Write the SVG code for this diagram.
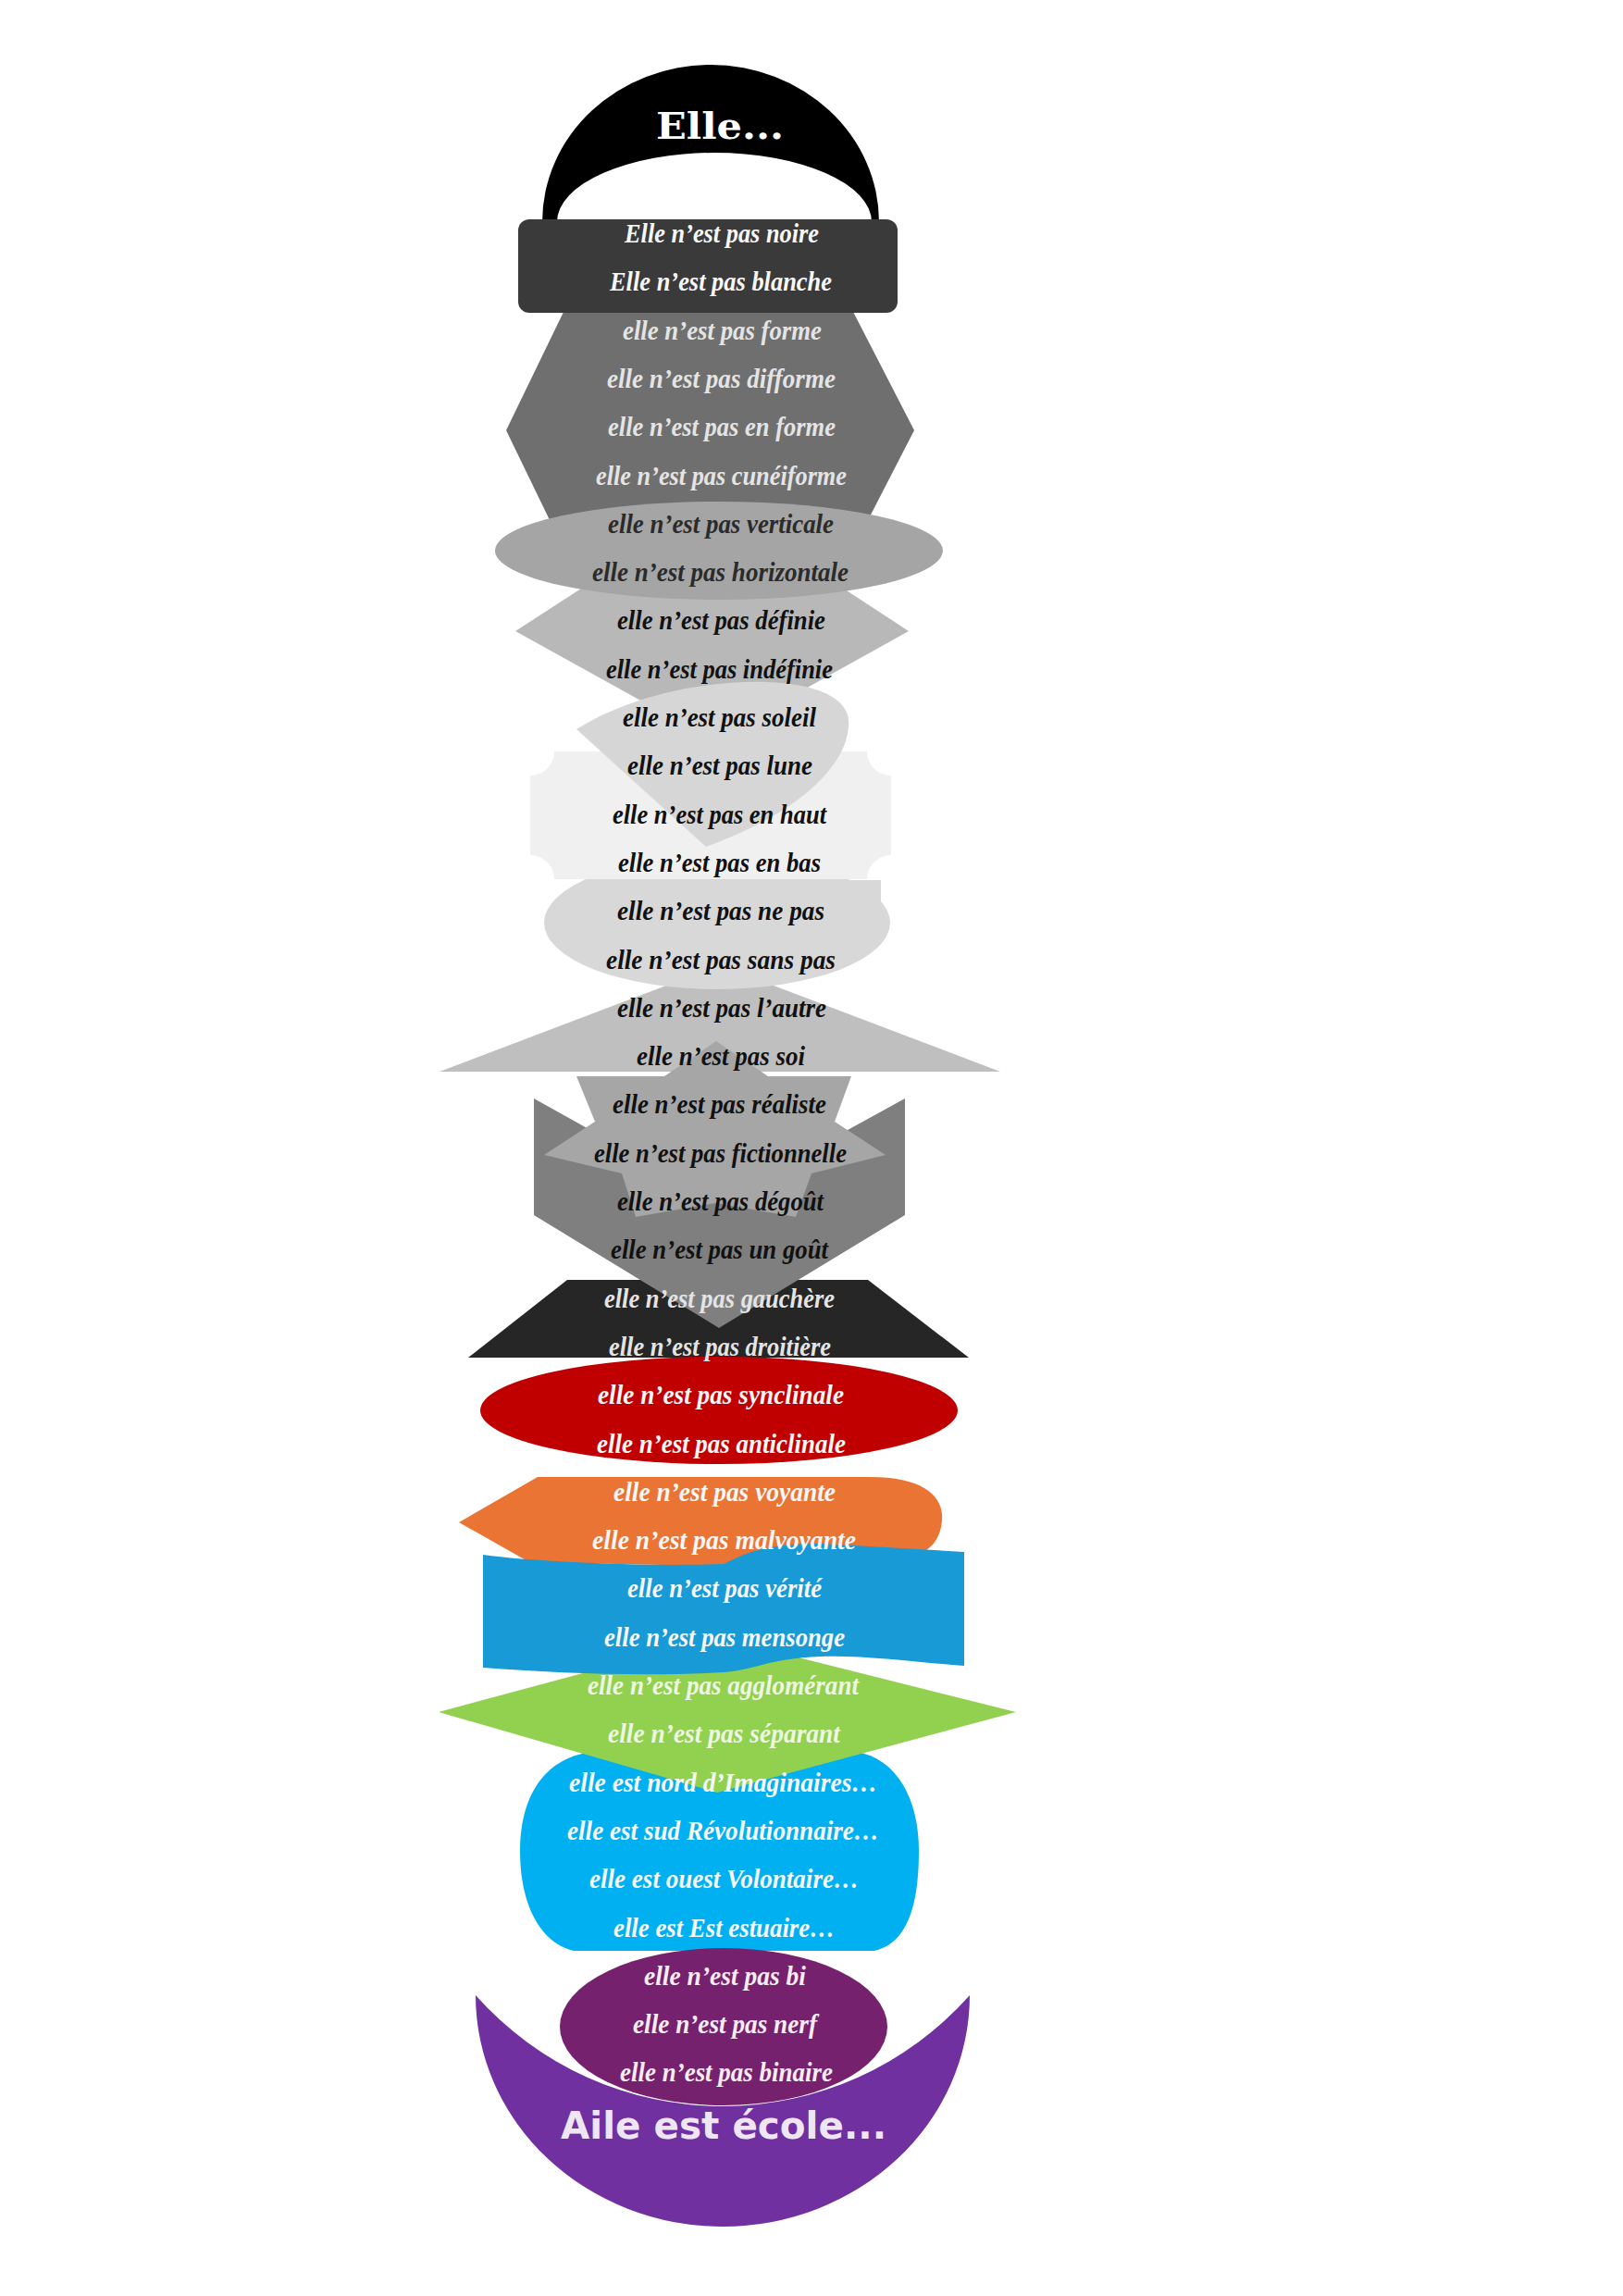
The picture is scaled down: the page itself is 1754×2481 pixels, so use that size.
<svg xmlns="http://www.w3.org/2000/svg" width="1754" height="2481" viewBox="0 0 1754 2481">
<style>
.t{font-family:"Liberation Serif","DejaVu Serif",serif;font-style:italic;font-weight:bold;font-size:29px}
.w{fill:#f7f7f7}.lg{fill:#e4e4e4}.dk{fill:#2b2b2b}.bk{fill:#111111}.gw{fill:#eef6e2}.pw{fill:#f6ecf4}
.title{font-weight:bold;font-size:40px;text-anchor:middle}
</style>
<rect x="0" y="0" width="1754" height="2481" fill="#ffffff"/>
<g id="nodes">
<g id="node-elle"><path d="M586,240 A182,170 0 0 1 950,240 L942,240 A170,75 0 0 0 602,240 Z" fill="#000000"/></g>
<g id="node-forme"><polygon points="611,333 920,333 988,465 920,597 611,597 547,465" fill="#6f6f6f"/></g>
<g id="node-noire"><rect x="560" y="237" width="410" height="101" rx="12" fill="#3a3a3a"/></g>
<g id="node-definie"><polygon points="645,625 895,625 982,682 770,800 557,682" fill="#b8b8b8"/></g>
<g id="node-verticale"><ellipse cx="777" cy="595" rx="242" ry="53" fill="#a5a5a5"/></g>
<g id="node-autre"><polygon points="778,1043 1081,1158 475,1158" fill="#bfbfbf"/></g>
<g id="node-nepas"><ellipse cx="775" cy="997" rx="187" ry="72" fill="#d8d8d8"/><rect x="775" y="951" width="177" height="50" fill="#d8d8d8"/></g>
<g id="node-haut"><path d="M599,812 L937,812 A26,26 0 0 0 963,838 L963,924 A26,26 0 0 0 937,950 L599,950 A26,26 0 0 0 573,924 L573,838 A26,26 0 0 0 599,812 Z" fill="#f0f0f0"/></g>
<g id="node-soleil"><path d="M623,788 C680,752 760,735 830,737 C895,740 920,760 917,785 C914,830 860,880 763,915 Z" fill="#d6d6d6"/></g>
<g id="node-gauchere"><polygon points="613,1383 938,1383 1047,1467 506,1467" fill="#262626"/></g>
<g id="node-gout"><polygon points="577,1187 776,1298 978,1187 978,1313 777,1435 577,1313" fill="#7f7f7f"/></g>
<g id="node-realiste"><polygon points="623,1163 718,1163 774,1125 830,1163 920,1163 902,1212 957,1248 877,1268 860,1315 773,1300 687,1315 672,1268 588,1248 643,1212" fill="#a6a6a6"/></g>
<g id="node-synclinale"><ellipse cx="777" cy="1524" rx="258" ry="58" fill="#c00000"/></g>
<g id="node-voyante"><path d="M581,1596 L940,1596 C1000,1596 1020,1618 1018,1643 C1016,1665 1005,1675 990,1680 L770,1692 L572,1688 L496,1645 Z" fill="#e97434"/></g>
<g id="node-nord"><path d="M640,1893 L925,1893 C970,1900 993,1945 993,2000 C993,2060 980,2100 945,2108 L620,2108 C585,2100 562,2060 562,2000 C562,1945 585,1900 640,1893 Z" fill="#00b0f0"/></g>
<g id="node-separant"><polygon points="775,1769 1098,1850 775,1937 474,1850" fill="#92d050"/></g>
<g id="node-verite"><path d="M522,1680 C580,1688 700,1693 782,1690 C800,1682 820,1668 887,1668 L1042,1677 L1042,1800 C990,1796 930,1788 887,1790 C830,1792 815,1805 782,1807 C700,1812 600,1808 522,1802 Z" fill="#179ad6"/></g>
<g id="node-ecole"><path d="M514,2156 A267,250 0 0 0 1048,2156 A357,357 0 0 1 514,2156 Z" fill="#7030a0"/></g>
<g id="node-bi"><ellipse cx="782" cy="2190" rx="177" ry="85" fill="#76216d"/></g>
</g>
<g id="connectors"></g>
<g id="labels">
<text class="title" x="778" y="150" fill="#ffffff" font-family="DejaVu Serif, serif" textLength="138" lengthAdjust="spacingAndGlyphs">Elle...</text>
<text class="t w" x="675" y="262" textLength="210" lengthAdjust="spacingAndGlyphs">Elle n’est pas noire</text>
<text class="t w" x="659" y="314" textLength="240" lengthAdjust="spacingAndGlyphs">Elle n’est pas blanche</text>
<text class="t lg" x="673" y="367" textLength="215" lengthAdjust="spacingAndGlyphs">elle n’est pas forme</text>
<text class="t lg" x="656" y="419" textLength="247" lengthAdjust="spacingAndGlyphs">elle n’est pas difforme</text>
<text class="t lg" x="657" y="471" textLength="246" lengthAdjust="spacingAndGlyphs">elle n’est pas en forme</text>
<text class="t lg" x="644" y="524" textLength="271" lengthAdjust="spacingAndGlyphs">elle n’est pas cunéiforme</text>
<text class="t dk" x="657" y="576" textLength="244" lengthAdjust="spacingAndGlyphs">elle n’est pas verticale</text>
<text class="t dk" x="640" y="628" textLength="277" lengthAdjust="spacingAndGlyphs">elle n’est pas horizontale</text>
<text class="t bk" x="667" y="680" textLength="225" lengthAdjust="spacingAndGlyphs">elle n’est pas définie</text>
<text class="t bk" x="655" y="733" textLength="245" lengthAdjust="spacingAndGlyphs">elle n’est pas indéfinie</text>
<text class="t bk" x="673" y="785" textLength="209" lengthAdjust="spacingAndGlyphs">elle n’est pas soleil</text>
<text class="t bk" x="678" y="837" textLength="200" lengthAdjust="spacingAndGlyphs">elle n’est pas lune</text>
<text class="t bk" x="662" y="890" textLength="231" lengthAdjust="spacingAndGlyphs">elle n’est pas en haut</text>
<text class="t bk" x="668" y="942" textLength="219" lengthAdjust="spacingAndGlyphs">elle n’est pas en bas</text>
<text class="t bk" x="667" y="994" textLength="224" lengthAdjust="spacingAndGlyphs">elle n’est pas ne pas</text>
<text class="t bk" x="655" y="1047" textLength="248" lengthAdjust="spacingAndGlyphs">elle n’est pas sans pas</text>
<text class="t bk" x="667" y="1099" textLength="226" lengthAdjust="spacingAndGlyphs">elle n’est pas l’autre</text>
<text class="t bk" x="688" y="1151" textLength="182" lengthAdjust="spacingAndGlyphs">elle n’est pas soi</text>
<text class="t bk" x="662" y="1203" textLength="231" lengthAdjust="spacingAndGlyphs">elle n’est pas réaliste</text>
<text class="t bk" x="642" y="1256" textLength="273" lengthAdjust="spacingAndGlyphs">elle n’est pas fictionnelle</text>
<text class="t bk" x="667" y="1308" textLength="223" lengthAdjust="spacingAndGlyphs">elle n’est pas dégoût</text>
<text class="t bk" x="660" y="1360" textLength="235" lengthAdjust="spacingAndGlyphs">elle n’est pas un goût</text>
<text class="t lg" x="653" y="1413" textLength="249" lengthAdjust="spacingAndGlyphs">elle n’est pas gauchère</text>
<text class="t lg" x="658" y="1465" textLength="240" lengthAdjust="spacingAndGlyphs">elle n’est pas droitière</text>
<text class="t w" x="646" y="1517" textLength="266" lengthAdjust="spacingAndGlyphs">elle n’est pas synclinale</text>
<text class="t w" x="645" y="1570" textLength="269" lengthAdjust="spacingAndGlyphs">elle n’est pas anticlinale</text>
<text class="t w" x="663" y="1622" textLength="240" lengthAdjust="spacingAndGlyphs">elle n’est pas voyante</text>
<text class="t w" x="640" y="1674" textLength="285" lengthAdjust="spacingAndGlyphs">elle n’est pas malvoyante</text>
<text class="t w" x="678" y="1726" textLength="210" lengthAdjust="spacingAndGlyphs">elle n’est pas vérité</text>
<text class="t w" x="653" y="1779" textLength="260" lengthAdjust="spacingAndGlyphs">elle n’est pas mensonge</text>
<text class="t gw" x="635" y="1831" textLength="293" lengthAdjust="spacingAndGlyphs">elle n’est pas agglomérant</text>
<text class="t gw" x="657" y="1883" textLength="251" lengthAdjust="spacingAndGlyphs">elle n’est pas séparant</text>
<text class="t w" x="615" y="1936" textLength="333" lengthAdjust="spacingAndGlyphs">elle est nord d’Imaginaires…</text>
<text class="t w" x="613" y="1988" textLength="337" lengthAdjust="spacingAndGlyphs">elle est sud Révolutionnaire…</text>
<text class="t w" x="637" y="2040" textLength="291" lengthAdjust="spacingAndGlyphs">elle est ouest Volontaire…</text>
<text class="t w" x="663" y="2093" textLength="239" lengthAdjust="spacingAndGlyphs">elle est Est estuaire…</text>
<text class="t pw" x="696" y="2145" textLength="175" lengthAdjust="spacingAndGlyphs">elle n’est pas bi</text>
<text class="t pw" x="684" y="2197" textLength="199" lengthAdjust="spacingAndGlyphs">elle n’est pas nerf</text>
<text class="t pw" x="670" y="2249" textLength="230" lengthAdjust="spacingAndGlyphs">elle n’est pas binaire</text>
<text class="title" x="782" y="2311" fill="#efe6f5" font-family="DejaVu Sans, sans-serif" textLength="352" lengthAdjust="spacingAndGlyphs">Aile est école...</text>
</g>
</svg>
